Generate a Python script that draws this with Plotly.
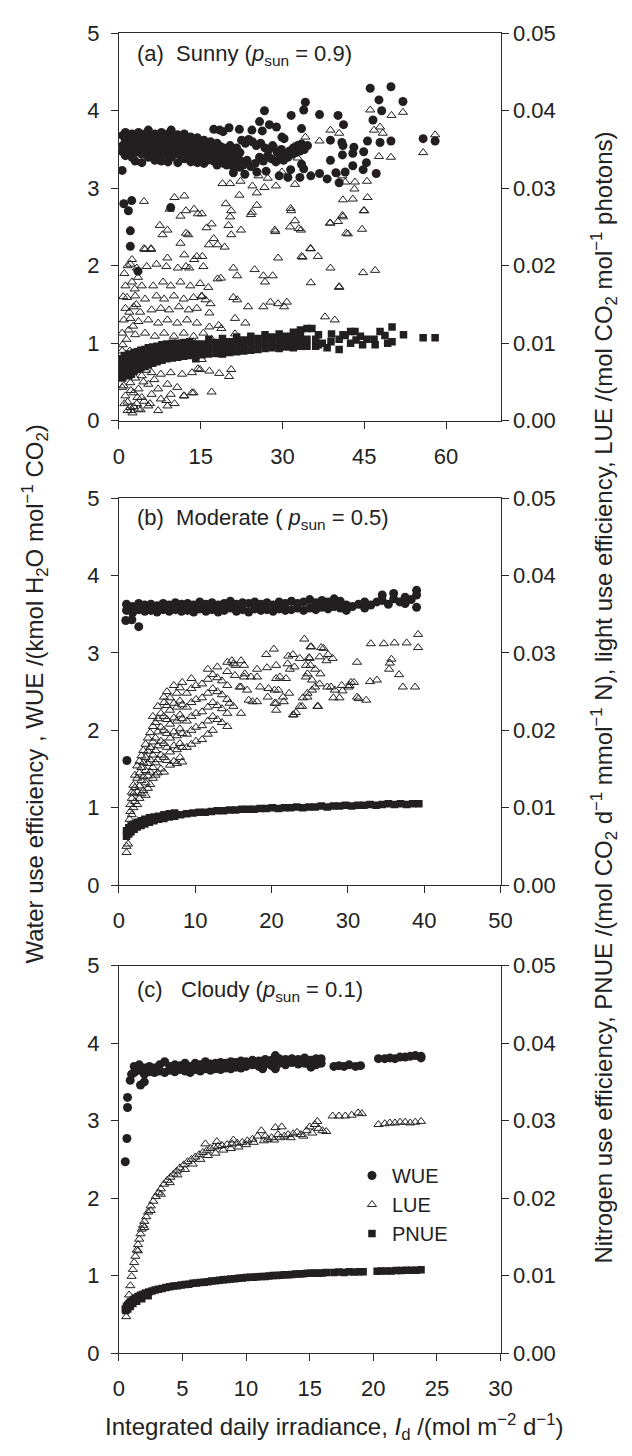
import plotly.graph_objects as go

# The page body adds an 8 px margin, so the figure is drawn 8 px smaller and all
# pixel positions below are page positions.
PAGE_W, PAGE_H, OFF = 632, 1456, 8
W, H = PAGE_W - OFF, PAGE_H - OFF
FONT = "Liberation Sans, Arial, sans-serif"
INK = "#231f20"

# ---------------- data ----------------
# Each "cols" list: (x, [y values at that x]); each "pts" list: (x, y)
# (a) Sunny, p_sun = 0.9  -- x: I_d (mol m-2 d-1)
sunny_wue_cols = [
    (0.7, [3.68, 3.55, 3.47]), (1.2, [3.72, 3.62, 3.50, 3.42]), (1.8, [3.66, 3.58, 3.45]),
    (2.4, [3.70, 3.60, 3.52, 3.40]), (3.0, [3.68, 3.55, 3.46, 3.35]), (3.6, [3.72, 3.62, 3.50]),
    (4.2, [3.66, 3.57, 3.44, 3.33]), (4.8, [3.70, 3.60, 3.48]), (5.4, [3.75, 3.63, 3.52, 3.40]),
    (6.0, [3.68, 3.56, 3.45]), (6.6, [3.70, 3.60, 3.48, 3.36]), (7.2, [3.66, 3.55, 3.42]),
    (7.8, [3.72, 3.61, 3.50, 3.35]), (8.4, [3.68, 3.57, 3.44]), (9.0, [3.70, 3.58, 3.47, 3.34]),
    (9.6, [3.75, 3.63, 3.52, 3.40]), (10.2, [3.67, 3.55, 3.44]), (10.8, [3.69, 3.58, 3.48, 3.33]),
    (11.4, [3.66, 3.54, 3.42]), (12.0, [3.70, 3.60, 3.50, 3.38]), (12.6, [3.64, 3.53, 3.41]),
    (13.2, [3.66, 3.56, 3.46, 3.34]), (13.8, [3.62, 3.52, 3.40]), (14.4, [3.65, 3.55, 3.44, 3.33]),
    (15.0, [3.60, 3.50, 3.38]), (15.6, [3.62, 3.52, 3.42, 3.32]), (16.2, [3.58, 3.47, 3.36]),
    (16.8, [3.60, 3.50, 3.40]), (17.4, [3.56, 3.46, 3.35]), (18.0, [3.58, 3.48, 3.38, 3.30]),
    (18.6, [3.54, 3.44, 3.34]), (19.2, [3.52, 3.42, 3.32]), (19.8, [3.50, 3.40, 3.30]),
    (20.4, [3.55, 3.45, 3.35]), (21.0, [3.48, 3.38, 3.28]), (21.6, [3.52, 3.42, 3.33]),
    (22.2, [3.46, 3.36, 3.27]),
]
sunny_wue_pts = [
    (22.5, 3.62), (23.2, 3.58), (23.8, 3.63), (24.5, 3.60), (25.2, 3.55), (26.0, 3.58), (26.8, 3.52),
    (27.5, 3.50), (28.2, 3.55), (29.0, 3.47), (29.8, 3.50), (30.5, 3.45), (31.3, 3.48), (32.0, 3.52),
    (32.8, 3.55), (33.5, 3.57),
    (22.8, 3.30), (23.5, 3.36), (24.2, 3.28), (25.0, 3.32), (25.8, 3.40), (26.5, 3.35), (27.3, 3.42),
    (28.0, 3.38), (28.8, 3.34), (29.5, 3.40), (30.2, 3.36), (31.0, 3.40), (31.8, 3.44), (32.5, 3.46),
    (33.2, 3.48), (34.0, 3.50), (34.6, 3.55),
    (17.4, 3.76), (19.1, 3.73), (20.2, 3.78), (22.1, 3.76), (18.5, 3.75), (24.4, 3.75), (25.8, 3.86),
    (26.3, 3.74), (26.7, 4.00), (27.6, 3.82), (28.9, 3.79), (29.9, 3.66), (30.3, 3.64), (31.6, 3.94),
    (33.5, 3.77), (33.9, 4.01), (34.2, 4.11), (36.8, 3.95), (38.8, 3.62), (40.2, 3.94), (40.9, 3.59),
    (41.2, 3.82), (41.1, 3.55), (43.1, 3.53), (44.9, 3.47), (41.0, 3.43), (42.9, 3.45), (38.8, 3.36),
    (45.4, 3.33), (42.9, 3.29), (44.8, 3.24), (39.8, 3.20), (41.5, 3.21), (40.4, 3.07), (38.2, 3.12),
    (36.8, 3.19), (35.2, 3.16), (47.2, 3.19), (33.9, 3.25), (33.5, 3.31), (31.5, 3.24), (31.0, 3.14),
    (33.2, 3.14), (29.4, 3.16), (21.0, 3.20), (23.1, 3.18), (25.3, 3.21), (20.7, 3.31), (27.0, 3.22),
    (45.6, 3.61), (47.9, 3.59), (49.9, 3.61), (55.8, 3.64), (58.0, 3.61), (46.1, 4.29), (49.9, 4.31),
    (52.1, 4.12), (47.7, 4.14), (48.2, 4.00), (46.6, 3.88),
    (0.6, 3.23), (0.9, 2.80), (1.75, 2.71), (2.35, 2.84), (9.5, 2.75), (2.1, 2.45), (2.1, 2.25), (3.5, 1.93),
]
sunny_lue_pts = [
    (2.4, .0208), (4.8, .0221), (5.9, .0221), (8.9, .0210), (2.1, .0202), (3.3, .0197), (5.1, .0199),
    (6.9, .0202), (8.7, .0199), (10.8, .0197), (12.3, .0199), (13.8, .0208),
    (1.2, .0174), (2.4, .0179), (4.2, .0174), (6.3, .0174), (8.1, .0179), (9.5, .0174), (11.3, .0179),
    (13.1, .0174), (14.9, .0177),
    (1.5, .0159), (3.0, .0161), (4.8, .0157), (6.9, .0161), (8.3, .0157), (10.1, .0161), (11.9, .0157),
    (13.7, .0159), (15.2, .0161),
    (1.2, .0145), (2.7, .0147), (3.9, .0140), (6.0, .0143), (7.7, .0145), (9.2, .0143), (11.0, .0147),
    (12.8, .0143), (14.3, .0145),
    (0.9, .0130), (2.1, .0132), (3.6, .0128), (5.4, .0130), (7.2, .0126), (8.9, .0130), (10.7, .0126),
    (12.5, .0130), (14.3, .0126),
    (0.6, .0113), (1.8, .0117), (3.0, .0111), (4.8, .0113), (6.6, .0109), (8.3, .0113), (10.1, .0109),
    (11.9, .0113), (13.7, .0109), (15.5, .0113),
    (0.9, .0045), (2.1, .0049), (3.6, .0041), (5.4, .0047), (7.2, .0041), (8.9, .0047), (10.7, .0043),
    (1.2, .0032), (2.7, .0036), (4.2, .0030), (6.0, .0034), (7.7, .0028), (9.5, .0034), (11.9, .0032),
    (13.7, .0036), (2.1, .0017), (3.6, .0015), (5.4, .0019), (7.2, .0013), (8.9, .0019),
    (2.4, .0062), (4.2, .0058), (6.0, .0062), (7.7, .0060), (9.5, .0062), (11.6, .0060), (13.4, .0062),
    (14.9, .0066),
    (0.8, .0160), (1.0, .0190), (1.6, .0200), (0.7, .0098), (1.4, .0105), (2.6, .0122), (3.2, .0150),
    (1.9, .0140), (2.9, .0170), (3.5, .0185), (1.1, .0080), (0.6, .0090), (2.0, .0090), (1.6, .0057),
    (3.0, .0055), (4.5, .0050), (5.0, .0065), (4.6, .0025), (6.5, .0053), (3.3, .0022), (1.0, .0022),
    (2.5, .0010), (1.6, .0013), (4.0, .0014),
    (4.6, .0283), (10.2, .0288), (12.0, .0290), (9.3, .0273), (11.3, .0264), (12.3, .0271), (13.8, .0273),
    (14.5, .0267), (15.2, .0267), (7.5, .0252), (8.9, .0246), (8.0, .0240), (12.3, .0242), (12.7, .0240),
    (11.3, .0229), (17.0, .0254), (16.1, .0249), (16.5, .0227), (17.4, .0235), (18.1, .0227), (19.4, .0224),
    (4.6, .0222), (5.9, .0222), (14.3, .0212), (12.0, .0214), (15.3, .0212), (12.9, .0197), (15.5, .0199),
    (18.1, .0183), (16.4, .0172), (15.2, .0160), (15.9, .0156), (16.6, .0139), (16.6, .0121), (18.3, .0123),
    (15.2, .0079), (16.6, .0064), (18.4, .0061), (20.2, .0057), (20.6, .0066), (17.0, .0037), (14.5, .0067),
    (18.4, .0085), (13.4, .0036), (12.0, .0032), (10.2, .0022), (8.7, .0026), (5.7, .0022), (2.2, .0013),
    (2.7, .0018), (1.6, .0024), (3.4, .0030), (2.2, .0039), (0.6, .0043),
    (21.0, .0159), (21.7, .0156), (23.7, .0147), (26.5, .0147), (27.8, .0153), (29.2, .0151), (30.8, .0153),
    (30.3, .0147), (21.3, .0132), (23.2, .0126), (37.8, .0134), (39.6, .0130), (21.0, .0197), (21.7, .0187),
    (24.9, .0195), (26.5, .0187), (28.2, .0187), (26.8, .0179), (29.2, .0210), (33.5, .0212), (35.2, .0222),
    (36.5, .0212), (35.2, .0178), (38.8, .0197), (40.4, .0172), (44.8, .0191), (47.0, .0194), (40.2, .0257),
    (38.8, .0255), (42.0, .0241), (44.6, .0247), (41.0, .0265), (45.0, .0271), (41.1, .0285), (42.9, .0286),
    (45.6, .0288), (43.2, .0299), (41.5, .0308), (43.3, .0308), (45.5, .0309), (41.0, .0316), (47.7, .0341),
    (49.9, .0340), (55.8, .0346), (58.0, .0369), (50.0, .0394), (52.1, .0398), (46.1, .0401), (46.8, .0375),
    (47.9, .0379), (48.4, .0371), (38.8, .0375), (40.4, .0371), (36.8, .0361), (34.2, .0366), (32.1, .0354),
    (31.4, .0344), (32.8, .0339), (28.8, .0352), (27.3, .0344), (25.6, .0316), (29.9, .0321), (32.3, .0305),
    (28.8, .0303), (27.3, .0313), (26.7, .0301), (24.5, .0303), (25.3, .0294), (22.3, .0309), (20.4, .0306),
    (19.0, .0306), (22.1, .0291), (25.3, .0278), (24.2, .0266), (19.6, .0280), (20.6, .0271), (20.4, .0263),
    (20.1, .0252), (22.4, .0246), (20.6, .0240), (31.5, .0274), (32.3, .0258), (31.4, .0250), (33.0, .0248),
    (28.7, .0244), (24.4, .0269), (31.6, .0271), (44.9, .0271), (33.4, .0246), (28.6, .0246), (38.7, .0255),
    (41.1, .0263), (41.7, .0242), (35.1, .0222), (33.7, .0211), (40.4, .0173), (18.7, .0184), (16.8, .0151),
    (18.8, .0119), (21.3, .0112), (19.5, .0100), (17.0, .0105), (14.0, .0100),
]
sunny_pnue_cols = [
    (0.4, [.0058, .0066, .0074]), (0.7, [.0055, .0063, .0071, .0080]), (1.0, [.0060, .0068, .0076, .0084]),
    (1.4, [.0058, .0066, .0074, .0082]), (1.8, [.0062, .0070, .0078, .0086]), (2.3, [.0060, .0068, .0076, .0084]),
    (2.8, [.0064, .0072, .0080, .0088]), (3.4, [.0066, .0074, .0082, .0089]), (4.0, [.0068, .0076, .0084, .0091]),
    (4.7, [.0070, .0078, .0086, .0092]), (5.4, [.0072, .0080, .0087, .0094]), (6.2, [.0074, .0082, .0089, .0095]),
    (7.0, [.0076, .0084, .0091, .0096]), (7.9, [.0078, .0086, .0093, .0098]), (8.8, [.0080, .0087, .0094, .0099]),
    (9.8, [.0081, .0088, .0095, .0100]), (10.8, [.0082, .0089, .0096, .0100]), (11.9, [.0083, .0090, .0097, .0101]),
    (13.0, [.0084, .0091, .0098, .0102]), (14.1, [.0080, .0086, .0093, .0099]), (15.3, [.0085, .0092, .0099]),
    (16.5, [.0086, .0093, .0100, .0105]), (17.8, [.0087, .0094, .0101]), (19.0, [.0086, .0093, .0100, .0106]),
    (20.3, [.0088, .0095, .0102]), (21.6, [.0089, .0096, .0103, .0108]), (22.9, [.0090, .0097, .0104]),
    (24.2, [.0091, .0098, .0105, .0109]), (25.5, [.0092, .0099, .0106]), (26.8, [.0093, .0100, .0107, .0111]),
    (28.1, [.0094, .0101, .0108]), (29.4, [.0093, .0100, .0107, .0112]), (30.7, [.0095, .0102, .0109]),
    (32.0, [.0094, .0101, .0108, .0114]), (33.3, [.0096, .0103, .0110, .0117]), (34.5, [.0105, .0119]),
]
sunny_pnue_pts = [
    (35.4, .0119), (36.1, .0096), (36.6, .0098), (36.1, .0105), (38.2, .0094), (40.4, .0092), (40.4, .0105),
    (42.5, .0100), (42.5, .0115), (44.3, .0109), (44.7, .0098), (45.5, .0105), (46.8, .0105), (47.0, .0098),
    (47.9, .0115), (50.1, .0121), (50.1, .0102), (52.2, .0111), (55.8, .0107), (58.0, .0107), (39.0, .0112),
    (41.5, .0110), (43.5, .0104), (48.8, .0110), (49.3, .0100), (37.3, .0100), (34.5, .0096), (36.6, .0111),
    (38.9, .0102), (41.1, .0111), (43.3, .0115),
]

# (b) Moderate, p_sun = 0.5
moderate_wue_cols = [
    (1.0, [3.63, 3.55]), (1.8, [3.60, 3.52]), (2.6, [3.64, 3.56]), (3.4, [3.62, 3.54]), (4.2, [3.63, 3.55]),
    (5.0, [3.61, 3.53]), (5.8, [3.64, 3.56]), (6.6, [3.62, 3.54]), (7.4, [3.65, 3.56]), (8.2, [3.63, 3.54]),
    (9.0, [3.64, 3.55]), (9.8, [3.62, 3.53]), (10.6, [3.66, 3.57]), (11.4, [3.63, 3.54]), (12.2, [3.65, 3.56]),
    (13.0, [3.62, 3.53]), (13.8, [3.64, 3.55]), (14.6, [3.67, 3.58]), (15.4, [3.63, 3.54]), (16.2, [3.65, 3.56]),
    (17.0, [3.64, 3.53]), (17.8, [3.66, 3.57]), (18.6, [3.63, 3.55]), (19.4, [3.65, 3.56]), (20.2, [3.62, 3.54]),
    (21.0, [3.66, 3.57]), (21.8, [3.64, 3.55]), (22.6, [3.67, 3.56]), (23.4, [3.64, 3.58]), (24.2, [3.66, 3.55]),
    (25.0, [3.69, 3.58]), (25.8, [3.65, 3.56]), (26.6, [3.68, 3.59]), (27.4, [3.66, 3.57]), (28.2, [3.70, 3.60]),
    (29.0, [3.67, 3.58]), (29.8, [3.62, 3.55]), (30.6, [3.60]), (31.4, [3.63]), (32.2, [3.58, 3.66]),
    (33.0, [3.62]), (33.8, [3.66]), (34.5, [3.75, 3.68]), (35.3, [3.63]), (36.0, [3.77, 3.70]),
    (36.8, [3.66]), (37.5, [3.64, 3.72]), (38.3, [3.69]), (39.0, [3.59, 3.75, 3.81]),
]
moderate_wue_pts = [(0.9, 3.42), (1.7, 3.43), (2.6, 3.34), (1.05, 1.61)]
moderate_lue_cols = [
    (1.0, [.0042, .0050]), (1.2, [.0053]), (1.4, [.0085]), (1.5, [.0095, .0104]), (1.7, [.0091, .0112, .0120]),
    (1.9, [.0100, .0118, .0129]), (2.1, [.0108, .0126, .0142]), (2.4, [.0104, .0120, .0138, .0154]),
    (2.7, [.0112, .0128, .0145, .0160]), (2.95, [.0118, .0135, .0152, .0167]), (3.2, [.0122, .0140, .0158, .0174]),
    (3.5, [.0116, .0132, .0148, .0165, .0182]), (3.8, [.0125, .0141, .0157, .0173, .0190]),
    (4.1, [.0130, .0146, .0162, .0178, .0197]), (4.45, [.0138, .0152, .0168, .0185, .0205, .0218]),
    (4.8, [.0142, .0158, .0174, .0190, .0210]), (5.1, [.0145, .0162, .0180, .0198, .0215, .0231]),
    (5.5, [.0150, .0168, .0186, .0204, .0222]), (5.9, [.0146, .0165, .0183, .0200, .0218, .0236, .0243]),
    (6.3, [.0161, .0178, .0196, .0214, .0232, .0250]), (6.7, [.0155, .0172, .0190, .0208, .0226, .0242]),
    (7.2, [.0160, .0180, .0198, .0216, .0235, .0258]), (7.6, [.0157, .0175, .0193, .0212, .0230, .0248]),
    (8.0, [.0165, .0183, .0202, .0220, .0238, .0255]), (8.3, [.0159, .0178, .0196, .0215, .0233, .0262]),
    (8.9, [.0178, .0195, .0212, .0230, .0248]), (9.5, [.0182, .0200, .0218, .0236, .0254, .0267]),
    (10.1, [.0186, .0204, .0222, .0240, .0258]), (10.9, [.0188, .0206, .0224, .0242, .0260]),
    (11.65, [.0195, .0212, .0230, .0248, .0266, .0279]), (12.3, [.0200, .0218, .0236, .0254, .0272]),
    (12.9, [.0214, .0232, .0250, .0268, .0282]), (13.5, [.0210, .0228, .0246, .0264]),
    (14.2, [.0205, .0222, .0240, .0258, .0276, .0288]),
]
moderate_lue_pts = [
    (15.0, .0231), (15.0, .0286), (16.0, .0222), (16.0, .0256), (16.0, .0290), (16.5, .0273), (17.0, .0239),
    (17.3, .0269), (18.1, .0237), (18.1, .0279), (19.3, .0298), (20.3, .0305), (20.4, .0252), (20.6, .0235),
    (20.6, .0284), (21.1, .0269), (21.6, .0237), (22.2, .0296), (22.4, .0279), (22.8, .0220), (23.2, .0223),
    (23.7, .0231), (24.3, .0318), (24.5, .0284), (24.7, .0273), (24.7, .0243), (25.0, .0293), (25.2, .0308),
    (25.3, .0252), (25.7, .0279), (26.1, .0231), (26.3, .0295), (26.3, .0260), (26.5, .0307), (27.2, .0290),
    (27.3, .0256), (28.3, .0252), (29.2, .0258), (30.1, .0256), (30.4, .0262), (31.2, .0288), (31.4, .0241),
    (32.4, .0239), (32.9, .0263), (33.0, .0312), (33.8, .0265), (34.7, .0312), (35.4, .0279), (35.5, .0287),
    (35.7, .0292), (36.1, .0313), (36.7, .0272), (37.2, .0256), (37.7, .0313), (38.8, .0256), (39.2, .0324),
    (39.2, .0307), (25.1, .0308), (26.8, .0306), (27.4, .0298), (28.0, .0293), (22.8, .0298), (23.7, .0293),
    (24.9, .0294), (22.1, .0286), (23.0, .0282), (25.1, .0284), (26.4, .0273), (24.5, .0269), (25.3, .0265),
    (25.7, .0256), (24.7, .0248), (24.1, .0242), (24.0, .0231), (26.0, .0231), (22.9, .0220), (19.4, .0281),
    (21.9, .0267), (20.6, .0267), (19.6, .0254), (20.9, .0252), (22.3, .0248), (21.5, .0243), (20.4, .0235),
    (20.6, .0226), (19.5, .0243), (18.1, .0269), (18.5, .0256), (16.4, .0269), (16.4, .0284), (15.3, .0284),
    (14.8, .0290), (15.2, .0271), (15.8, .0256), (16.8, .0252), (17.5, .0237), (14.5, .0235), (30.8, .0262),
    (30.2, .0258), (29.3, .0251), (28.9, .0242), (28.1, .0242), (31.2, .0243), (27.8, .0256),
]
moderate_pnue_cols = [
    (1.0, [.0063, .0070]), (1.3, [.0066, .0074]), (1.6, [.0069, .0077]), (2.0, [.0072, .0079]),
    (2.4, [.0075, .0081]), (2.9, [.0077, .0083]), (3.4, [.0079, .0085]), (4.0, [.0081, .0087]),
    (4.6, [.0083, .0088]), (5.2, [.0085, .0089]), (5.9, [.0086, .0091]), (6.6, [.0088, .0092]),
    (7.3, [.0089, .0093]), (8.1, [.0091]), (8.9, [.0092]), (9.7, [.0093]), (10.5, [.0094]), (11.3, [.0094]),
    (12.1, [.0095]), (12.9, [.0096]), (13.7, [.0096]), (14.5, [.0097]), (15.3, [.0097]), (16.1, [.0098]),
    (16.9, [.0098]), (17.7, [.0098]), (18.5, [.0099]), (19.3, [.0099]), (20.1, [.0100]), (20.9, [.0099]),
    (21.7, [.0100]), (22.5, [.0100]), (23.3, [.0101]), (24.1, [.0100]), (24.9, [.0101]), (25.7, [.0101]),
    (26.5, [.0102]), (27.3, [.0101]), (28.1, [.0102]), (28.9, [.0102]), (29.7, [.0103]), (30.5, [.0102]),
    (31.3, [.0103]), (32.1, [.0103]), (32.9, [.0104]), (33.7, [.0103]), (34.5, [.0104]), (35.3, [.0105]),
    (36.1, [.0104]), (36.9, [.0105]), (37.7, [.0104]), (38.5, [.0105]), (39.3, [.0105]),
]

# (c) Cloudy, p_sun = 0.1
cloudy_wue_cols = [
    (1.2, [3.62, 3.70]), (1.6, [3.65, 3.72]), (2.0, [3.60, 3.68]), (2.4, [3.63, 3.70]), (2.8, [3.62, 3.68]),
    (3.2, [3.64, 3.72]), (3.6, [3.62, 3.76]), (4.0, [3.65, 3.70]), (4.4, [3.63, 3.72]), (4.8, [3.66, 3.71]),
    (5.2, [3.64, 3.74]), (5.6, [3.62, 3.70]), (6.0, [3.66, 3.74]), (6.4, [3.64, 3.72]), (6.8, [3.67, 3.76]),
    (7.2, [3.65, 3.73]), (7.6, [3.67, 3.74]), (8.0, [3.66, 3.75]), (8.4, [3.68, 3.74]), (8.8, [3.67, 3.76]),
    (9.2, [3.69, 3.75]), (9.6, [3.68, 3.77]), (10.0, [3.70, 3.76]), (10.5, [3.72, 3.78]), (11.0, [3.70, 3.77]),
    (11.3, [3.67]), (11.5, [3.73, 3.79]), (12.0, [3.71, 3.78]), (12.3, [3.67, 3.84]), (12.6, [3.74, 3.80]),
    (13.1, [3.72, 3.79]), (13.6, [3.75, 3.80]), (14.1, [3.73, 3.79]), (14.6, [3.74, 3.81]), (15.1, [3.69, 3.78]),
    (15.5, [3.72, 3.80]), (15.9, [3.74, 3.80]), (16.9, [3.70]), (17.3, [3.71]), (17.7, [3.70]), (18.1, [3.72]),
    (18.6, [3.70]), (19.0, [3.71]), (20.4, [3.80]), (20.9, [3.80]), (21.3, [3.81]), (21.7, [3.80]),
    (22.1, [3.82]), (22.5, [3.82]), (22.9, [3.83]), (23.3, [3.84]), (23.75, [3.81, 3.83]),
]
cloudy_wue_pts = [(0.5, 2.47), (0.63, 2.77), (0.68, 3.17), (0.68, 3.30), (0.89, 3.52), (1.0, 3.60),
                  (1.7, 3.46), (2.0, 3.50)]
cloudy_lue_pts = [
    (0.58, .0047), (0.7, .0062), (0.8, .0075), (0.9, .0087), (1.0, .0099), (1.1, .0108), (1.2, .0117),
    (1.3, .0125), (1.4, .0133), (1.5, .0140), (1.6, .0147), (1.7, .0154), (1.8, .0160), (1.9, .0165),
    (2.0, .0170), (2.15, .0176), (2.3, .0182), (2.5, .0190), (2.7, .0196), (2.9, .0202), (3.1, .0207),
    (3.3, .0212), (3.55, .0218), (3.8, .0223), (4.05, .0227), (4.3, .0231), (4.55, .0235), (4.8, .0239),
    (5.1, .0243), (5.4, .0247), (5.7, .0250), (6.0, .0253), (6.3, .0256), (6.6, .0259), (6.9, .0261),
    (7.2, .0264), (7.5, .0266), (7.8, .0267), (8.1, .0268), (8.5, .0269), (8.9, .0270), (9.3, .0271),
    (9.7, .0272), (10.1, .0274), (10.5, .0276), (10.9, .0280), (11.2, .0287), (11.5, .0280), (11.7, .0276),
    (12.0, .0278), (12.3, .0291), (12.5, .0282), (12.7, .0278), (13.0, .0280), (13.3, .0282), (13.7, .0283),
    (14.0, .0285), (14.3, .0282), (14.75, .0287), (15.0, .0292), (15.4, .0295), (15.7, .0290), (16.0, .0287),
    (16.3, .0286), (16.8, .0306), (17.3, .0306), (17.8, .0306), (18.3, .0307), (18.8, .0310), (19.1, .0309),
    (20.4, .0295), (20.9, .0296), (21.3, .0297), (21.7, .0297), (22.1, .0298), (22.5, .0298), (22.9, .0297),
    (23.3, .0298), (23.75, .0299),
    (3.3, .0205), (4.0, .0220), (4.6, .0230), (5.2, .0237), (5.8, .0244), (6.4, .0250), (7.0, .0255),
    (7.6, .0258), (8.2, .0262), (8.8, .0264), (9.4, .0266), (10.0, .0269), (10.6, .0272), (11.4, .0274),
    (12.2, .0275), (13.5, .0278), (14.5, .0280), (15.2, .0284), (1.5, .0132), (2.0, .0162), (2.5, .0184),
    (6.8, .0270), (7.7, .0273), (9.0, .0275), (12.8, .0292), (15.6, .0299),
]
cloudy_pnue_pts = [
    (0.5, .0057), (0.6, .0060), (0.7, .0062), (0.8, .0064), (0.9, .0066), (1.0, .0067), (1.15, .0069),
    (1.3, .0071), (1.5, .0073), (1.7, .00745), (1.9, .0076), (2.1, .00775), (2.35, .0079), (2.6, .0080),
    (2.85, .00815), (3.1, .00825), (3.4, .00835), (3.7, .00845), (4.0, .00855), (4.3, .00865), (4.6, .0087),
    (4.9, .0088), (5.2, .00885), (5.5, .0089), (5.8, .0090), (6.1, .00905), (6.4, .0091), (6.7, .00915),
    (7.0, .0092), (7.3, .0093), (7.6, .00935), (7.9, .0094), (8.2, .00945), (8.5, .0095), (8.8, .00955),
    (9.1, .0096), (9.4, .00965), (9.7, .0097), (10.0, .00975), (10.3, .0098), (10.6, .0098), (10.9, .00985),
    (11.2, .0099), (11.5, .0099), (11.8, .00995), (12.1, .0100), (12.4, .0100), (12.7, .01005), (13.0, .0101),
    (13.3, .0101), (13.6, .01015), (13.9, .0102), (14.2, .0102), (14.5, .01025), (14.8, .0103), (15.1, .0103),
    (15.4, .01035), (15.7, .0103), (16.0, .01035), (16.3, .0104), (16.9, .0104), (17.3, .01045), (17.7, .0104),
    (18.1, .0105), (18.5, .01045), (18.9, .0105), (19.2, .0105), (20.3, .01055), (20.6, .0106), (21.0, .0106),
    (21.4, .0106), (21.8, .01065), (22.2, .01065), (22.6, .0107), (23.0, .0107), (23.4, .0107), (23.75, .01075),
    (0.55, .0055), (0.7, .0057), (0.9, .0060), (1.1, .0064), (1.4, .0067), (1.8, .0070), (2.3, .0074),
]

panel_labels = ["(a)\u00a0\u00a0Sunny (<i>p</i><sub>sun</sub> = 0.9)",
                "(b)\u00a0\u00a0Moderate ( <i>p</i><sub>sun</sub> = 0.5)",
                "(c)\u00a0\u00a0\u00a0Cloudy (<i>p</i><sub>sun</sub> = 0.1)"]
x_ranges = [[0, 70], [0, 50], [0, 30]]
x_dticks = [15, 10, 5]
legend_names = ["WUE", "LUE", "PNUE"]


def from_cols(cols):
    xs, ys = [], []
    for x, yl in cols:
        for y in yl:
            xs.append(x)
            ys.append(y)
    return xs, ys


def from_pts(pts):
    return [p[0] for p in pts], [p[1] for p in pts]


def join(*parts):
    xs, ys = [], []
    for a, b in parts:
        xs += a
        ys += b
    return xs, ys


panels = [
    (join(from_cols(sunny_wue_cols), from_pts(sunny_wue_pts)),
     from_pts(sunny_lue_pts),
     join(from_cols(sunny_pnue_cols), from_pts(sunny_pnue_pts))),
    (join(from_cols(moderate_wue_cols), from_pts(moderate_wue_pts)),
     join(from_cols(moderate_lue_cols), from_pts(moderate_lue_pts)),
     from_cols(moderate_pnue_cols)),
    (join(from_cols(cloudy_wue_cols), from_pts(cloudy_wue_pts)),
     from_pts(cloudy_lue_pts),
     from_pts(cloudy_pnue_pts)),
]

# ---------------- layout geometry (page pixels) ----------------
X0, X1 = 116, 509
panel_px = [(21.5, 415.7), (494.7, 888.2), (970.3, 1364.5)]


def fx(px):
    return (px - OFF) / W


def fy(py):
    return 1 - (py - OFF) / H


fig = go.Figure()
axis_common = dict(showline=True, linecolor="#2b2b2b", linewidth=1, ticks="outside", ticklen=7,
                   tickwidth=1, tickcolor="#2b2b2b", showgrid=False, zeroline=False,
                   tickfont=dict(family=FONT, size=22, color="#222"))
layout = dict(width=W, height=H, margin=dict(l=0, r=0, t=0, b=0), plot_bgcolor="white",
              paper_bgcolor="white", font=dict(family=FONT, color="#222"))

for i, (wue, lue, pnue) in enumerate(panels):
    xn = "x" if i == 0 else f"x{i + 1}"
    yl = "y" if i == 0 else f"y{2 * i + 1}"
    yr = f"y{2 * i + 2}"
    show = (i == 2)
    fig.add_trace(go.Scatter(x=wue[0], y=wue[1], mode="markers", xaxis=xn, yaxis=yl,
                             name=legend_names[0], showlegend=show, legendrank=1,
                             marker=dict(symbol="circle", size=9, color=INK, line=dict(width=0))))
    fig.add_trace(go.Scatter(x=lue[0], y=lue[1], mode="markers", xaxis=xn, yaxis=yr,
                             name=legend_names[1], showlegend=show, legendrank=2,
                             marker=dict(symbol="triangle-up-open", size=8, color=INK,
                                         line=dict(width=1, color=INK))))
    fig.add_trace(go.Scatter(x=pnue[0], y=pnue[1], mode="markers", xaxis=xn, yaxis=yr,
                             name=legend_names[2], showlegend=show, legendrank=3,
                             marker=dict(symbol="square", size=7.5, color=INK, line=dict(width=0))))

    top, bot = panel_px[i]
    dom_y = [fy(bot), fy(top)]
    xkey = "xaxis" if i == 0 else f"xaxis{i + 1}"
    ylkey = "yaxis" if i == 0 else f"yaxis{2 * i + 1}"
    yrkey = f"yaxis{2 * i + 2}"
    layout[xkey] = dict(axis_common, domain=[fx(X0), fx(X1)], anchor=yl, range=x_ranges[i],
                        dtick=x_dticks[i], tick0=0, mirror=True, ticklabelstandoff=9)
    layout[ylkey] = dict(axis_common, domain=dom_y, anchor=xn, range=[0, 5], dtick=1, tick0=0,
                         ticklabelstandoff=7)
    layout[yrkey] = dict(axis_common, overlaying=yl, side="right", anchor=xn, range=[0, 0.05],
                         dtick=0.01, tick0=0, tickformat=".2f")

fig.update_layout(**layout)

annotations = []
label_y = [43.5, 516, 996]
for i, txt in enumerate(panel_labels):
    annotations.append(dict(text=txt, x=fx(133), y=fy(label_y[i]), xref="paper", yref="paper",
                            xanchor="left", yanchor="middle", showarrow=False,
                            font=dict(family=FONT, size=22, color="#222")))
annotations.append(dict(text="Water use efficiency , WUE /(kmol H<sub>2</sub>O mol<sup>\u22121</sup> CO<sub>2</sub>)",
                        x=fx(30), y=fy(694), xref="paper", yref="paper", textangle=-90,
                        xanchor="center", yanchor="middle", showarrow=False,
                        font=dict(family=FONT, size=24, color="#222")))
annotations.append(dict(text="Nitrogen use efficiency, PNUE /(mol CO<sub>2</sub> d<sup>\u22121</sup> mmol<sup>\u22121</sup> N), "
                             "light use efficiency, LUE /(mol CO<sub>2</sub> mol<sup>\u22121</sup> photons)",
                        x=fx(616), y=fy(697), xref="paper", yref="paper", textangle=-90,
                        xanchor="center", yanchor="middle", showarrow=False,
                        font=dict(family=FONT, size=24, color="#222")))
annotations.append(dict(text="Integrated daily irradiance, <i>I</i><sub>d</sub> /(mol m<sup>\u22122</sup> d<sup>\u22121</sup>)",
                        x=fx(337), y=fy(1440), xref="paper", yref="paper",
                        xanchor="center", yanchor="middle", showarrow=False,
                        font=dict(family=FONT, size=24, color="#222")))
fig.update_layout(annotations=annotations,
                  legend=dict(x=fx(356), y=fy(1164), xanchor="left", yanchor="top",
                              bgcolor="rgba(0,0,0,0)", font=dict(family=FONT, size=20, color="#222"),
                              traceorder="normal", itemsizing="trace", tracegroupgap=0))

fig.write_html("out.html")
